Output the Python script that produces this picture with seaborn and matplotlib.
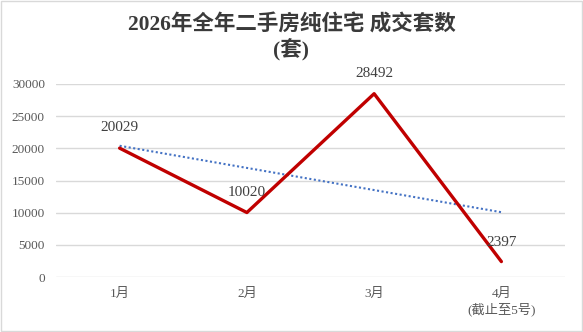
import numpy as np
import pandas as pd
import matplotlib
matplotlib.use("Agg")
import matplotlib.pyplot as plt
import seaborn as sns
from matplotlib.patches import Rectangle

months = ["1月", "2月", "3月", "4月\n(截止至5号)"]
values = [20029, 10020, 28492, 2397]
yticks = [0, 5000, 10000, 15000, 20000, 25000, 30000]
title = "2026年全年二手房纯住宅 成交套数\n(套)"

sns.set_theme(style="white")
plt.rcParams['font.family'] = ['Liberation Serif', 'Noto Sans CJK SC', 'DejaVu Sans']

df = pd.DataFrame({"x": np.arange(len(months)), "y": values})
coef = np.polyfit(df["x"], df["y"], 1)
df["trend"] = np.polyval(coef, df["x"])

fig = plt.figure(figsize=(5.83, 3.32), dpi=100)
ax = fig.add_axes([56/583, 1-277/332, (565-56)/583, (277-84)/332])

sns.lineplot(data=df, x="x", y="y", ax=ax, color="#C00000", linewidth=2.4, zorder=3)
sns.lineplot(data=df, x="x", y="trend", ax=ax, color="#4472C4", linewidth=1.5,
             linestyle=(0, (1, 1.2)), zorder=2)

ax.set_xlim(-0.5, len(months)-0.5)
ax.set_ylim(0, 30000)
ax.set_yticks(yticks)
ax.set_yticklabels([str(v) for v in yticks], fontsize=9.5, color="#595959")
ax.set_xticks(range(len(months)))
ax.set_xticklabels(months, fontsize=9.5, color="#595959")
ax.tick_params(axis="both", length=0, pad=8)
ax.set_xlabel("")
ax.set_ylabel("")
ax.grid(axis="y", color="#D9D9D9", linewidth=1)
ax.grid(axis="x", visible=False)
for s in ax.spines.values():
    s.set_visible(False)

offsets = [(0, 10), (0, 10), (0, 10), (0, 9)]
for i, v in enumerate(values):
    ax.annotate(str(v), (i, v), xytext=offsets[i], textcoords="offset points",
                ha="center", va="bottom", fontsize=11, color="#404040")

fig.text(0.5, 1-38/332, title, ha="center", va="center", fontsize=15.5,
         fontweight="bold", color="#3A3A3A", linespacing=1.15)

fig.patches.append(Rectangle((0.002, 0.003), 0.996, 0.994, transform=fig.transFigure,
                             fill=False, edgecolor="#D9D9D9", linewidth=1))

fig.savefig("out.png", dpi=100)
